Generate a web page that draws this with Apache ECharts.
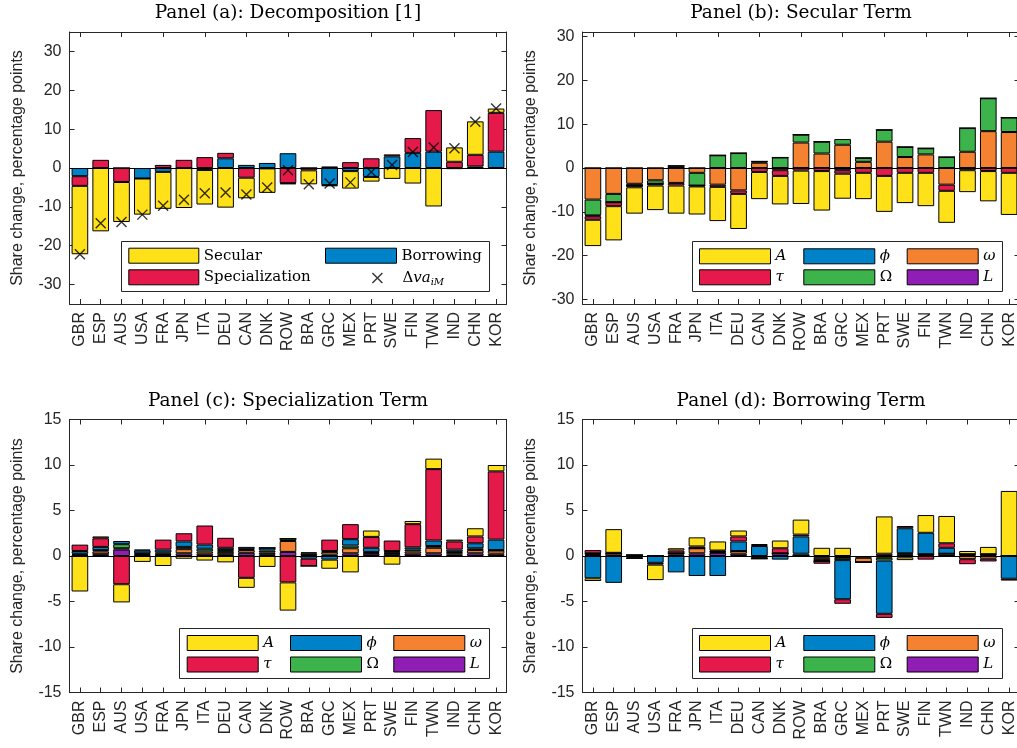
<!DOCTYPE html>
<html><head><meta charset="utf-8">
<script src="https://cdn.jsdelivr.net/npm/echarts@6/dist/echarts.min.js"></script>
<style>html,body{margin:0;padding:0;background:#fff}#c{width:1017px;height:748px}</style>
</head><body><div id="c"></div>
<script>
// ---------- data ----------
const categories = ['GBR','ESP','AUS','USA','FRA','JPN','ITA','DEU','CAN','DNK','ROW','BRA','GRC','MEX','PRT','SWE','FIN','TWN','IND','CHN','KOR'];
const yTicksA = [-30,-20,-10,0,10,20,30];
const yTicksB = [-30,-20,-10,0,10,20,30];
const yTicksCD = [-15,-10,-5,0,5,10,15];

// Panel (a): Decomposition
const aBorrowing      = [-2.1, 0, 0, -2.7, -1.0, 0, -0.5, 2.5, 0.8, 1.3, 3.8, 0, -4.4, -0.8, -2.3, 3.0, 3.9, 4.2, -0.3, 0.4, 4.2];
const aSpecialization = [-2.5, 2.1, -3.6, 0, 0.8, 2.1, 2.8, 1.4, -2.5, -0.1, -3.9, -0.6, 0.4, 1.5, 2.5, 0.5, 3.8, 10.7, 1.6, 3.0, 10.0];
const aSecular        = [-17.6, -16.3, -10.3, -9.3, -9.5, -10.3, -8.9, -10.2, -5.3, -6.3, -0.3, -3.6, -0.3, -4.5, -1.2, -2.8, -4.0, -9.9, 3.7, 8.6, 1.1];
const aDeltaVa        = [-22.2, -14.2, -13.9, -12.0, -9.7, -8.2, -6.5, -6.3, -6.8, -5.0, -0.6, -4.2, -4.0, -3.7, -1.0, 0.8, 4.1, 5.3, 5.1, 11.9, 15.3];

// Panel (b): Secular term
const bL        = [0,0,0,0,0,0,0,0,0,0,0,0,0,0,0,0,0,0,0,0,0];
const bOmega    = [-7.2, -5.9, -3.6, -2.8, -3.4, -1.1, -3.8, -5.1, 1.2, -0.5, 5.8, 3.3, 5.3, 1.4, 6.0, 2.5, 3.1, -3.8, 3.7, 8.4, 8.2];
const bOmegaCap = [-3.6, -1.9, -0.4, -0.8, 0.5, -2.9, 2.9, 3.4, 0.3, 2.4, 1.8, 2.7, 1.3, 0.9, 2.7, 2.3, 1.4, 2.5, 5.4, 7.5, 3.3];
const bPhi      = [-0.2, 0, 0, 0, 0, 0, 0, 0, 0, 0, 0, 0, -0.5, 0, 0, 0, 0, 0, 0, 0, 0];
const bTau      = [-0.8, -0.9, -0.4, -0.4, -0.6, -0.2, -0.5, -0.8, -0.9, -1.3, -0.6, -0.7, -0.8, -1.1, -1.8, -1.1, -1.1, -1.4, -0.5, -0.7, -1.1];
const bA        = [-6.0, -7.8, -6.0, -5.6, -6.4, -6.4, -7.8, -8.0, -6.2, -6.5, -7.6, -9.0, -5.7, -6.0, -8.2, -6.9, -7.6, -7.3, -5.0, -6.9, -9.6];

// Panel (c): Specialization term
const cL        = [0.05, 0.2, 0.7, 0.1, 0.1, 0.3, 0.25, 0.2, 0.35, 0.2, 0.45, 0.1, 0.15, 0.3, 0.25, 0.2, 0.25, 0.3, 0.15, 0.3, 0.25];
const cOmega    = [0.1, 0.3, 0.15, 0.1, 0.15, 0.45, 0.25, 0.25, 0.3, 0.2, 1.2, 0.2, 0.3, 0.55, 0.1, 0.1, 0.25, 0.6, 0.15, 0.35, 0.35];
const cOmegaCap = [0.1, 0.15, 0.45, 0.1, 0.15, 0.25, 0.3, 0.2, 0.1, 0.2, 0.25, 0.1, 0.1, 0.3, 0.1, 0.1, 0.2, 0.2, 0.15, 0.2, 0.05];
const cPhi      = [0.3, 0.35, 0.35, 0.3, 0.3, 0.6, 0.45, 0.25, 0.25, 0.3, 0, -0.3, -0.4, 0.7, 0.45, 0.15, 0.25, 0.6, 0.25, 0.55, 1.15];
const cTau      = [0.7, 0.95, -3.1, 0.1, 1.1, 0.9, 2.1, 1.1, -2.4, 0, -2.9, -0.8, 1.25, 1.65, 1.2, 1.15, 2.55, 7.85, 0.9, 0.75, 7.5];
const cA        = [-3.9, 0.2, -2.0, -0.65, -1.1, -0.3, -0.5, -0.7, -1.1, -1.2, -3.1, 0, -1.0, -1.8, 0.7, -0.95, 0.35, 1.15, 0.2, 0.9, 0.7];

// Panel (d): Borrowing term
const dL        = [0.1, 0.05, 0.1, 0, 0.15, 0.3, 0.35, 0.25, -0.1, 0.3, 0, -0.2, -0.1, -0.2, 0.25, 0.2, 0.1, 0, 0.1, 0.1, 0];
const dOmega    = [0.15, 0.25, 0, 0, 0.15, 0.55, 0.1, 0.3, -0.2, 0, 0, -0.25, -0.1, -0.5, -0.2, -0.15, 0.1, 0.25, -0.35, -0.3, 0];
const dOmegaCap = [0.05, 0, 0, 0, 0, 0, 0.05, 0, 0, 0, 0.25, -0.1, -0.25, 0, -0.3, 0.1, 0, 0, 0.1, 0.1, 0];
const dPhi      = [-2.45, -2.95, -0.15, -0.75, -1.8, -2.2, -2.2, 1.05, 1.1, -0.4, 1.9, 0, -4.3, 0, -5.85, 2.75, 2.35, 0.65, 0, 0, -2.5];
const dTau      = [0.35, 0.05, -0.1, -0.2, 0.3, 0.2, 0.1, 0.55, 0.1, 0.55, 0.2, -0.3, -0.5, 0, -0.45, 0.25, -0.4, 0.5, -0.55, -0.3, -0.2];
const dA        = [-0.3, 2.6, 0, -1.7, 0.25, 1.0, 1.0, 0.65, 0.1, 0.85, 1.65, 0.9, 0.9, 0, 4.1, -0.3, 1.95, 3.0, 0.35, 0.8, 7.15];

// ---------- styling ----------
const chart = echarts.init(document.getElementById('c'), null, {renderer:'canvas'});
const COL = {yellow:'#ffe119', red:'#e6194b', blue:'#0082c8', orange:'#f58231', green:'#3cb44b', purple:'#911eb4'};
const AX = '#262626';
const SANS = 'Liberation Sans, Arial, sans-serif';
const NARROW = 'Liberation Sans Narrow, Arial Narrow, Liberation Sans, sans-serif';
const SERIF = 'DejaVu Serif, serif';
const XPATH = 'path://M0,0L10,10M10,0L0,10';

const panels = [
  {grid:{left:69.5, top:32, width:437, height:272}, min:-35, max:35, ticks:yTicksA, title:'Panel (a): Decomposition [1]'},
  {grid:{left:582.5, top:32, width:437, height:272}, min:-31, max:31, ticks:yTicksB, title:'Panel (b): Secular Term'},
  {grid:{left:69.5, top:419.5, width:437, height:273}, min:-15, max:15, ticks:yTicksCD, title:'Panel (c): Specialization Term'},
  {grid:{left:582.5, top:419.5, width:437, height:273}, min:-15, max:15, ticks:yTicksCD, title:'Panel (d): Borrowing Term'}
];

const grids = [], xAxes = [], yAxes = [], titles = [], series = [];
panels.forEach((p, i) => {
  grids.push(Object.assign({outerBoundsMode:'none', containLabel:false}, p.grid));
  const lineStyle = {color:AX, width:1};
  xAxes.push({type:'category', gridIndex:i, data:categories, position:'bottom',
    axisLine:{show:true, onZero:false, lineStyle},
    axisTick:{show:true, inside:true, alignWithLabel:true, length:5, lineStyle},
    axisLabel:{show:true, rotate:90, margin:8, fontSize:16, fontFamily:NARROW, color:AX, interval:0},
    splitLine:{show:false}});
  xAxes.push({type:'category', gridIndex:i, data:categories, position:'top',
    axisLine:{show:true, onZero:false, lineStyle},
    axisTick:{show:true, inside:true, alignWithLabel:true, length:5, lineStyle},
    axisLabel:{show:false}, splitLine:{show:false}});
  yAxes.push({type:'value', gridIndex:i, min:p.min, max:p.max, position:'left',
    axisLine:{show:true, onZero:false, lineStyle},
    axisTick:{show:true, inside:true, length:5, customValues:p.ticks, lineStyle},
    axisLabel:{show:true, customValues:p.ticks, fontSize:16, fontFamily:SANS, color:AX, margin:8},
    splitLine:{show:false},
    name:'Share change, percentage points', nameLocation:'middle', nameGap:44,
    nameTextStyle:{fontSize:16, fontFamily:SANS, color:AX}});
  yAxes.push({type:'value', gridIndex:i, min:p.min, max:p.max, position:'right',
    axisLine:{show:true, onZero:false, lineStyle},
    axisTick:{show:true, inside:true, length:5, customValues:p.ticks, lineStyle},
    axisLabel:{show:false, customValues:p.ticks}, splitLine:{show:false}});
  titles.push({text:p.title, left:p.grid.left + p.grid.width/2, textAlign:'center',
    top:p.grid.top - 28, padding:0,
    textStyle:{fontFamily:SERIF, fontSize:18.5, fontWeight:'normal', color:'#000'}});
});

function bar(name, data, color, i, withZero) {
  const s = {type:'bar', name, data, xAxisIndex:i*2, yAxisIndex:i*2, stack:'st'+i,
    stackStrategy:'samesign', barWidth:'80%',
    itemStyle:{color, borderColor:'#000', borderWidth:1},
    emphasis:{disabled:true}, z:2};
  if (withZero) {
    s.markLine = {silent:true, symbol:'none', label:{show:false},
      lineStyle:{color:'#000', width:1, type:'solid'}, data:[{yAxis:0}], z:3};
  }
  return s;
}

series.push(bar('Borrowing', aBorrowing, COL.blue, 0, true));
series.push(bar('Specialization', aSpecialization, COL.red, 0));
series.push(bar('Secular', aSecular, COL.yellow, 0));
series.push({type:'scatter', name:'Δva_iM', data:aDeltaVa, xAxisIndex:0, yAxisIndex:0,
  symbol:XPATH, symbolSize:10, itemStyle:{color:'transparent', borderColor:'#000', borderWidth:1.4},
  emphasis:{disabled:true}, z:5});

const comp = [
  [bL, bOmega, bOmegaCap, bPhi, bTau, bA],
  [cL, cOmega, cOmegaCap, cPhi, cTau, cA],
  [dL, dOmega, dOmegaCap, dPhi, dTau, dA]
];
const compNames = ['L','ω','Ω','ϕ','τ','A'];
const compColors = [COL.purple, COL.orange, COL.green, COL.blue, COL.red, COL.yellow];
comp.forEach((arrs, k) => {
  arrs.forEach((arr, j) => series.push(bar(compNames[j], arr, compColors[j], k+1, j===0)));
});

// ---------- legends ----------
const legends = [];
function leg(name, left, top, opts) {
  const o = Object.assign({data:[name], left, top, padding:0, itemGap:0, itemWidth:71, itemHeight:15,
    icon:'rect', selectedMode:false, orient:'horizontal', z:6,
    itemStyle:{borderColor:'#000', borderWidth:1},
    textStyle:{fontFamily:SERIF, fontSize:15, color:'#000', lineHeight:15}}, opts || {});
  legends.push(o);
}
leg('Secular', 128.3, 247.7, {itemWidth:70});
leg('Specialization', 128.3, 269.3, {itemWidth:70});
leg('Borrowing', 325, 247.7, {itemWidth:71});
leg('Δva_iM', 371.7, 270.5, {itemWidth:10, itemHeight:10, icon:XPATH,
  itemStyle:{color:'transparent', borderColor:'#000', borderWidth:1.4},
  formatter:() => '{sp|}{d|Δ}{v|va}{s|iM}',
  textStyle:{fontFamily:SERIF, fontSize:15, color:'#000',
    rich:{sp:{width:15, lineHeight:18}, d:{fontFamily:SERIF, fontSize:15, lineHeight:18},
      v:{fontFamily:SERIF, fontSize:15, fontStyle:'italic', lineHeight:18},
      s:{fontFamily:SERIF, fontSize:10, fontStyle:'italic', lineHeight:11, verticalAlign:'bottom'}}}});

const italicNames = {A:true, 'τ':true, 'ϕ':true, 'ω':true, L:true, 'Ω':false};
const legendLayout = [
  {box:[692.5, 241.5, 310, 50], rows:[248.3, 269.3]},
  {box:[179.5, 628.5, 310, 50], rows:[635, 656.5], cols:[186.7, 290, 393.3]},
  {box:[692.5, 628.5, 310, 50], rows:[635, 656.5]}
];
const legendGrid = [['A','ϕ','ω'],['τ','Ω','L']];
legendLayout.forEach(L => {
  const cols = L.cols || [699, 803.3, 906.7];
  legendGrid.forEach((row, r) => row.forEach((nm, c) => {
    leg(nm, cols[c], L.rows[r], {textStyle:{fontFamily:SERIF, fontSize:15, color:'#000', lineHeight:15,
      fontStyle: italicNames[nm] ? 'italic' : 'normal'}});
  }));
});

const boxes = [[121.5, 241.5, 368, 50]].concat(legendLayout.map(l => l.box));
const graphic = boxes.map(b => ({type:'rect', shape:{x:b[0], y:b[1], width:b[2], height:b[3]},
  style:{fill:'#fff', stroke:AX, lineWidth:1}, z:3, silent:true}));

chart.setOption({
  animation:false,
  backgroundColor:'#fff',
  title:titles,
  grid:grids,
  xAxis:xAxes,
  yAxis:yAxes,
  legend:legends,
  graphic:graphic,
  series:series
});
</script></body></html>
